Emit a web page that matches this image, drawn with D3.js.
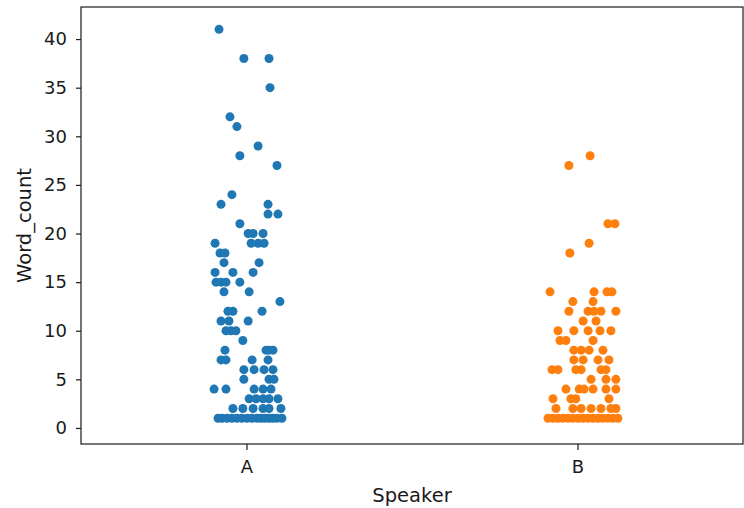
<!DOCTYPE html>
<html lang="en">
<head>
  <meta charset="utf-8">
  <title>stripplot</title>
  <script src="https://d3js.org/d3.v7.min.js"></script>
  <style type="text/css">
    body { margin: 0; background: #fff; }
    .axis text {
      font-family: "DejaVu Sans", sans-serif;
      font-size: 18px;
      fill: #1a1a1a;
    }
    .axis path.domain { display: none; }
    .axis line { stroke: #1a1a1a; stroke-width: 1.2; }
    .axisLabel {
      font-family: "DejaVu Sans", sans-serif;
      font-size: 19.5px;
      fill: #1a1a1a;
      text-anchor: middle;
    }
  </style>
</head>
<body>
  <script>
    // categories and ticks
    const speakers = ["A", "B"];
    const yTicks = [0, 5, 10, 15, 20, 25, 30, 35, 40];
    const colors = ["#1f77b4", "#ff7f0e"];

    // speaker A: word counts and horizontal jitter (category units)
    const wordCountA = [
      41, 38, 38, 35, 32, 31, 29, 28, 27, 24, 23, 23, 22, 22, 21,
      20, 20, 20, 19, 19, 19, 19, 18, 18, 17, 17, 16, 16, 16,
      15, 15, 15, 15, 14, 14, 13, 12, 12, 12, 11, 11, 11, 10, 10, 10, 9,
      8, 8, 8, 8, 7, 7, 7, 7, 6, 6, 6, 6, 5, 5, 5,
      4, 4, 4, 4, 4, 3, 3, 3, 3, 3, 2, 2, 2, 2, 2, 2,
      1, 1, 1, 1, 1, 1, 1, 1, 1, 1, 1, 1, 1, 1, 1
    ];
    const jitterA = [
      -0.083, -0.008, 0.068, 0.071, -0.050, -0.029, 0.035, -0.020, 0.092, -0.044, -0.077, 0.065, 0.065, 0.095, -0.020,
      0.005, 0.020, 0.050, -0.095, 0.014, 0.035, 0.053, -0.080, -0.065, -0.068, 0.038, -0.095, -0.041, 0.020,
      -0.092, -0.077, -0.062, -0.020, -0.068, 0.008, 0.101, -0.056, -0.041, 0.047, -0.077, -0.053, 0.005, -0.062, -0.047, -0.032, -0.011,
      -0.065, 0.059, 0.068, 0.080, -0.077, -0.062, 0.017, 0.065, -0.008, 0.023, 0.053, 0.080, -0.008, 0.068, 0.083,
      -0.098, -0.062, 0.023, 0.050, 0.074, 0.008, 0.029, 0.050, 0.068, 0.095, -0.041, -0.011, 0.020, 0.050, 0.068, 0.104,
      -0.086, -0.074, -0.059, -0.044, -0.029, -0.014, 0.002, 0.017, 0.032, 0.044, 0.056, 0.068, 0.080, 0.092, 0.107
    ];

    // speaker B
    const wordCountB = [
      28, 27, 21, 21, 19, 18, 14, 14, 14, 14, 13, 13, 12, 12, 12, 12, 12,
      11, 11, 10, 10, 10, 10, 10, 9, 9, 9, 8, 8, 8, 8, 7, 7, 7, 7,
      6, 6, 6, 6, 6, 6, 5, 5, 5, 4, 4, 4, 4, 4, 4, 3, 3, 3, 3,
      2, 2, 2, 2, 2, 2, 2,
      1, 1, 1, 1, 1, 1, 1, 1, 1, 1, 1, 1, 1, 1, 1
    ];
    const jitterB = [
      0.038, -0.026, 0.092, 0.113, 0.035, -0.023, -0.083, 0.050, 0.089, 0.104, -0.014, 0.047, -0.026, 0.032, 0.050, 0.071, 0.116,
      0.017, 0.056, -0.059, -0.011, 0.032, 0.068, 0.101, -0.053, -0.035, 0.047, -0.011, 0.011, 0.035, 0.077, -0.011, 0.017, 0.062, 0.095,
      -0.077, -0.059, -0.005, 0.011, 0.071, 0.086, 0.041, 0.086, 0.116, -0.035, 0.005, 0.020, 0.047, 0.086, 0.116, -0.074, -0.020, -0.005, 0.095,
      -0.065, -0.014, 0.011, 0.041, 0.071, 0.101, 0.116,
      -0.089, -0.074, -0.059, -0.044, -0.029, -0.014, 0.002, 0.017, 0.032, 0.047, 0.062, 0.077, 0.092, 0.107, 0.122
    ];

    //config settings
    const width = 744, height = 508;
    const margin = { top: 7, bottom: 64, left: 81, right: 1 };
    const innerWidth = width - margin.left - margin.right;
    const innerHeight = height - margin.top - margin.bottom;
    const yLim = [-1.65, 43.3]; // axis limits as seen in the picture

    const points = [];
    wordCountA.forEach((v, i) => points.push({ cat: 0, value: v, jitter: jitterA[i] }));
    wordCountB.forEach((v, i) => points.push({ cat: 1, value: v, jitter: jitterB[i] }));

    const svg = d3.select("body").append("svg")
      .attr("width", width).attr("height", height);
    const mainGroup = svg.append("g")
      .attr("transform", `translate(${margin.left},${margin.top})`);

    const xScale = d3.scaleLinear().domain([-0.5, 1.5]).range([0, innerWidth]);
    const yScale = d3.scaleLinear().domain(yLim).range([innerHeight, 0]);

    // points
    mainGroup.selectAll("circle").data(points).enter().append("circle")
      .attr("cx", d => xScale(d.cat + d.jitter))
      .attr("cy", d => yScale(d.value))
      .attr("r", 4.5)
      .style("fill", d => colors[d.cat]);

    // axes
    const xAxis = d3.axisBottom(xScale)
      .tickValues([0, 1])
      .tickFormat(i => speakers[i])
      .tickSize(6).tickPadding(10);
    mainGroup.append("g").attr("class", "axis")
      .attr("transform", `translate(0,${innerHeight})`)
      .call(xAxis);

    const yAxis = d3.axisLeft(yScale)
      .tickValues(yTicks)
      .tickSize(5).tickPadding(9);
    mainGroup.append("g").attr("class", "axis").call(yAxis);

    // frame
    mainGroup.append("rect")
      .attr("x", 0).attr("y", 0)
      .attr("width", innerWidth).attr("height", innerHeight)
      .style("fill", "none").style("stroke", "#1a1a1a").style("stroke-width", 1.2);

    // labels
    svg.append("text").attr("class", "axisLabel")
      .attr("x", margin.left + innerWidth / 2).attr("y", 502)
      .text("Speaker");
    svg.append("text").attr("class", "axisLabel")
      .attr("transform", `translate(31,${margin.top + innerHeight / 2}) rotate(-90)`)
      .text("Word_count");
  </script>
</body>
</html>
